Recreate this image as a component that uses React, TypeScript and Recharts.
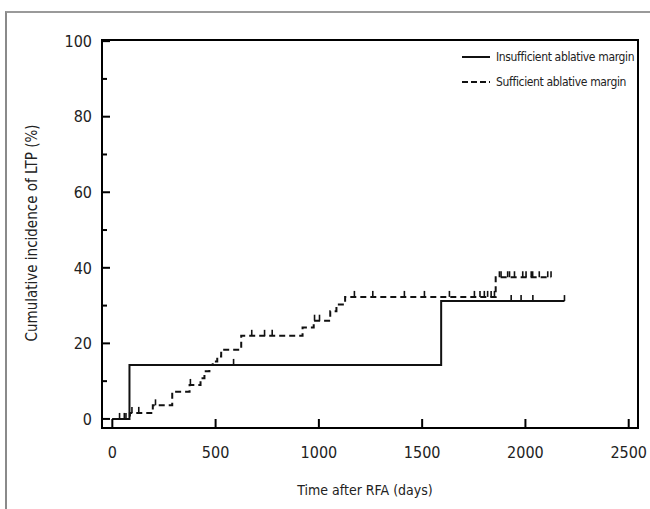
import {
  ComposedChart,
  Legend,
  Line,
  ReferenceArea,
  Scatter,
  XAxis,
  YAxis,
} from "recharts";

// Axis ranges and tick values.
const X_DOMAIN = [-50, 2545];
const Y_DOMAIN = [-2.4, 100.3];
const X_TICKS = [0, 500, 1000, 1500, 2000, 2500];
const Y_TICKS = [0, 10, 20, 30, 40, 50, 60, 70, 80, 90, 100];

const SERIES_NAMES = ["Insufficient ablative margin", "Sufficient ablative margin"];

// Insufficient ablative margin (solid): step start times (days) and cumulative incidence (%).
const INSUFF_TIME = [0, 83, 1592, 2189];
const INSUFF_PCT = [0, 14.3, 31.2, 31.2];
const INSUFF_CENSOR = [587, 1931, 1979, 2036, 2189];

// Sufficient ablative margin (dashed).
const SUFF_TIME = [
  0, 85, 196, 290, 374, 427, 446, 470, 486, 508, 527, 624, 921, 975, 1055, 1085, 1127,
  1856, 2124,
];
const SUFF_PCT = [
  0, 1.6, 3.6, 7.2, 9.0, 10.8, 12.6, 14.3, 15.2, 16.5, 18.3, 22.0, 24.2, 26.0, 28.5,
  30.3, 32.3, 37.5, 37.5,
];
const SUFF_CENSOR = [
  35, 58, 66, 95, 128, 209, 378, 675, 737, 774, 979, 1003, 1172, 1261, 1414, 1511, 1632,
  1753, 1780, 1801, 1817, 1834, 1850, 1874, 1882, 1914, 1923, 1947, 1987, 2003, 2028,
  2035, 2067, 2108, 2124,
];

const FONT = "'DejaVu Sans Condensed', 'Noto Sans', sans-serif";
const TEXT = "#222";
const INK = "#111";

type Pt = { x: number; y: number };

const toPoints = (t: number[], v: number[]): Pt[] => t.map((x, i) => ({ x, y: v[i] }));

// Censor marks sit on the curve: take the level of the last step at or before t.
function censorPoints(times: number[], stepT: number[], stepV: number[]): Pt[] {
  return times.map((t) => {
    let level = stepV[0];
    stepT.forEach((s, i) => {
      if (s <= t) level = stepV[i];
    });
    return { x: t, y: level };
  });
}

const insuffLine = toPoints(INSUFF_TIME, INSUFF_PCT);
const suffLine = toPoints(SUFF_TIME, SUFF_PCT);
const insuffCensor = censorPoints(INSUFF_CENSOR, INSUFF_TIME, INSUFF_PCT);
const suffCensor = censorPoints(SUFF_CENSOR, SUFF_TIME, SUFF_PCT);

function CensorMark(props: any) {
  const { cx, cy } = props;
  if (cx == null || cy == null) return <g />;
  return <line x1={cx} x2={cx} y1={cy} y2={cy - 6} stroke={INK} strokeWidth={1.6} />;
}

// Ticks point inward; labels only on the majors.
function YTick(props: any) {
  const { x, y, payload } = props;
  const major = payload.value % 20 === 0;
  return (
    <g>
      <line x1={x} x2={x + (major ? 8 : 5)} y1={y} y2={y} stroke="#000" strokeWidth={2} />
      {major && (
        <text x={x - 10} y={y} dy="0.36em" textAnchor="end" fontSize={16} fill={TEXT} fontFamily={FONT}>
          {payload.value}
        </text>
      )}
    </g>
  );
}

function XTick(props: any) {
  const { x, y, payload } = props;
  return (
    <g>
      <line x1={x} x2={x} y1={y} y2={y - 9} stroke="#000" strokeWidth={2} />
      <text x={x} y={y + 24} dy="0.36em" textAnchor="middle" fontSize={16} fill={TEXT} fontFamily={FONT}>
        {payload.value}
      </text>
    </g>
  );
}

function LegendBox() {
  return (
    <div
      style={{
        fontFamily: FONT,
        fontSize: 12,
        letterSpacing: -0.35,
        color: TEXT,
        whiteSpace: "nowrap",
      }}
    >
      {SERIES_NAMES.map((name, i) => (
        <div key={name} style={{ display: "flex", alignItems: "center", height: 25 }}>
          <svg width={30} height={10}>
            <line
              x1={1}
              x2={29}
              y1={5}
              y2={5}
              stroke={INK}
              strokeWidth={2}
              strokeDasharray={i === 1 ? "6 3" : undefined}
            />
          </svg>
          <span style={{ marginLeft: 5 }}>{name}</span>
        </div>
      ))}
    </div>
  );
}

export default function App() {
  return (
    <div
      style={{
        position: "fixed",
        left: 0,
        top: 0,
        width: 650,
        height: 509,
        background: "#fff",
        overflow: "hidden",
      }}
    >
      <div
        style={{
          position: "absolute",
          left: 5,
          top: 11,
          right: -4,
          bottom: -4,
          borderTop: "2px solid #9a9a9a",
          borderLeft: "2px solid #8a8a8a",
        }}
      />
      <div style={{ position: "absolute", left: 0, top: 0 }}>
        <ComposedChart
          width={650}
          height={509}
          margin={{ top: 40, right: 12, bottom: 41, left: 20 }}
          style={{ fontFamily: FONT }}
        >
          <XAxis
            dataKey="x"
            type="number"
            domain={X_DOMAIN}
            ticks={X_TICKS}
            allowDataOverflow
            interval={0}
            height={40}
            tickSize={0}
            tickMargin={0}
            axisLine={false}
            tickLine={false}
            tick={XTick}
            label={{
              content: ({ viewBox }: any) => (
                <text
                  x={viewBox.x + viewBox.width / 2 - 5}
                  y={viewBox.y + 62}
                  dy="0.36em"
                  textAnchor="middle"
                  fontSize={14}
                  fill={TEXT}
                  fontFamily={FONT}
                >
                  Time after RFA (days)
                </text>
              ),
            }}
          />
          <YAxis
            type="number"
            domain={Y_DOMAIN}
            ticks={Y_TICKS}
            allowDataOverflow
            interval={0}
            width={82}
            tickSize={0}
            tickMargin={0}
            axisLine={false}
            tickLine={false}
            tick={YTick}
            label={{
              content: ({ viewBox }: any) => {
                const cx = viewBox.x + 12;
                const cy = viewBox.y + viewBox.height / 2 - 1;
                return (
                  <text
                    x={cx}
                    y={cy}
                    dy="0.36em"
                    textAnchor="middle"
                    transform={`rotate(-90, ${cx}, ${cy})`}
                    fontSize={15}
                    fill={TEXT}
                    fontFamily={FONT}
                  >
                    Cumulative incidence of LTP (%)
                  </text>
                );
              },
            }}
          />
          <ReferenceArea
            x1={X_DOMAIN[0]}
            x2={X_DOMAIN[1]}
            y1={Y_DOMAIN[0]}
            y2={Y_DOMAIN[1]}
            fill="none"
            fillOpacity={0}
            stroke="#000"
            strokeWidth={2}
          />
          <Line
            data={insuffLine}
            dataKey="y"
            name={SERIES_NAMES[0]}
            type="stepAfter"
            stroke={INK}
            strokeWidth={2}
            dot={false}
            activeDot={false}
            isAnimationActive={false}
          />
          <Line
            data={suffLine}
            dataKey="y"
            name={SERIES_NAMES[1]}
            type="stepAfter"
            stroke={INK}
            strokeWidth={2}
            strokeDasharray="6 4"
            dot={false}
            activeDot={false}
            isAnimationActive={false}
          />
          <Scatter
            data={insuffCensor}
            dataKey="y"
            shape={CensorMark}
            legendType="none"
            isAnimationActive={false}
          />
          <Scatter
            data={suffCensor}
            dataKey="y"
            shape={CensorMark}
            legendType="none"
            isAnimationActive={false}
          />
          <Legend
            layout="vertical"
            align="center"
            verticalAlign="middle"
            content={LegendBox}
            wrapperStyle={{ position: "absolute", left: 461, top: 44, width: "auto" }}
          />
        </ComposedChart>
      </div>
    </div>
  );
}
